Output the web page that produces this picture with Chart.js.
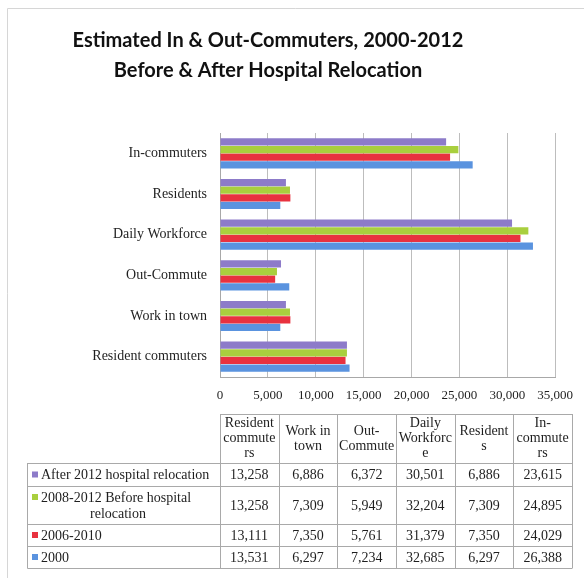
<!DOCTYPE html>
<html>
<head>
<meta charset="utf-8">
<script src="https://cdn.jsdelivr.net/npm/chart.js@4/dist/chart.umd.min.js"></script>
<style>
  html, body { margin: 0; padding: 0; background: #fff; }
  #wrap { width: 584px; height: 578px; position: relative; }
</style>
</head>
<body>
<div id="wrap"><canvas id="commuteChart" width="584" height="578"></canvas></div>
<script>
// categories in Excel / table order (bottom bar group first)
var categories = ['Resident commuters', 'Work in town', 'Out-Commute', 'Daily Workforce', 'Residents', 'In-commuters'];
// wrapped column headers as they show in the data table
var headerLines = [['Resident', 'commute', 'rs'], ['Work in', 'town'], ['Out-', 'Commute'], ['Daily', 'Workforc', 'e'], ['Resident', 's'], ['In-', 'commute', 'rs']];

var titleLines = ['Estimated In & Out-Commuters, 2000-2012', 'Before & After Hospital Relocation'];
var seriesNames = ['After 2012 hospital relocation', '2008-2012 Before hospital relocation', '2006-2010', '2000'];
var after2012 = [13258, 6886, 6372, 30501, 6886, 23615];
var before2012 = [13258, 7309, 5949, 32204, 7309, 24895];
var y2006to2010 = [13111, 7350, 5761, 31379, 7350, 24029];
var y2000 = [13531, 6297, 7234, 32685, 6297, 26388];

var xTicks = [0, 5000, 10000, 15000, 20000, 25000, 30000, 35000];

var colors = ['#8d7bc9', '#a9cf3e', '#e8323f', '#5a93df'];
var serif = '"Liberation Serif", "DejaVu Serif", serif';

function fmt(n) {
        return n.toLocaleString('en-US');
}

// title + table under the chart, drawn on the same canvas
var dataTable = {
        id: 'dataTable',
        afterDraw: function (chart) {
                var ctx = chart.ctx;
                var left = 27, labelRight = 220, right = 572;
                var colW = (right - labelRight) / categories.length;
                var headTop = 414, headBottom = 463;
                var rowEdges = [463, 486, 524, 546, 568];
                var rows = [after2012, before2012, y2006to2010, y2000];
                var rowLabels = [['After 2012 hospital relocation'], ['2008-2012 Before hospital', 'relocation'], ['2006-2010'], ['2000']];

                ctx.save();
                // title
                ctx.fillStyle = '#111';
                ctx.font = 'bold 20px Lato, "Open Sans", sans-serif';
                ctx.textAlign = 'center';
                ctx.textBaseline = 'middle';
                ctx.fillText(titleLines[0], 268, 41);
                ctx.fillText(titleLines[1], 268, 71);

                ctx.strokeStyle = '#a9a9a9';
                ctx.lineWidth = 1;
                ctx.beginPath();
                // header box
                ctx.moveTo(labelRight + 0.5, headTop + 0.5);
                ctx.lineTo(right + 0.5, headTop + 0.5);
                for (var c = 0; c <= categories.length; c++) {
                        var x = Math.round(labelRight + c * colW) + 0.5;
                        ctx.moveTo(x, headTop);
                        ctx.lineTo(x, rowEdges[rowEdges.length - 1]);
                }
                // row lines
                for (var r = 0; r < rowEdges.length; r++) {
                        ctx.moveTo(left + 0.5, rowEdges[r] + 0.5);
                        ctx.lineTo(right + 0.5, rowEdges[r] + 0.5);
                }
                ctx.moveTo(left + 0.5, headBottom);
                ctx.lineTo(left + 0.5, rowEdges[rowEdges.length - 1] + 0.5);
                ctx.stroke();

                ctx.fillStyle = '#1e1e1e';
                ctx.font = '14px ' + serif;
                ctx.textAlign = 'center';
                ctx.textBaseline = 'middle';
                // headers
                for (var c = 0; c < categories.length; c++) {
                        var cx = labelRight + c * colW + colW / 2;
                        var lines = headerLines[c];
                        var mid = (headTop + headBottom) / 2;
                        for (var i = 0; i < lines.length; i++) {
                                ctx.fillText(lines[i], cx, mid + (i - (lines.length - 1) / 2) * 15);
                        }
                }
                // rows
                for (var r = 0; r < rows.length; r++) {
                        var cy = (rowEdges[r] + rowEdges[r + 1]) / 2;
                        ctx.fillStyle = '#1e1e1e';
                        ctx.textAlign = 'center';
                        for (var c = 0; c < categories.length; c++) {
                                ctx.fillText(fmt(rows[r][c]), labelRight + c * colW + colW / 2, cy + 1);
                        }
                        // legend key + label
                        var lbl = rowLabels[r];
                        var ly = lbl.length > 1 ? cy - 8 : cy;
                        ctx.fillStyle = colors[r];
                        ctx.fillRect(32, ly - 3, 6, 6);
                        ctx.fillStyle = '#1e1e1e';
                        ctx.textAlign = 'left';
                        ctx.fillText(lbl[0], 41, ly + 1);
                        if (lbl.length > 1) {
                                ctx.textAlign = 'center';
                                ctx.fillText(lbl[1], 118, cy + 9);
                        }
                }
                // faint frame of the chart object
                ctx.strokeStyle = '#d6d6d6';
                ctx.beginPath();
                ctx.moveTo(7.5, 578);
                ctx.lineTo(7.5, 8.5);
                ctx.lineTo(584, 8.5);
                ctx.stroke();
                ctx.restore();
        }
};

var ctx = document.getElementById('commuteChart').getContext('2d');
var commuteChart = new Chart(ctx, {
        type: 'bar',
        data: {
                labels: categories,
                datasets: [
                        { label: seriesNames[0], data: after2012, backgroundColor: colors[0] },
                        { label: seriesNames[1], data: before2012, backgroundColor: colors[1] },
                        { label: seriesNames[2], data: y2006to2010, backgroundColor: colors[2] },
                        { label: seriesNames[3], data: y2000, backgroundColor: colors[3] }
                ]
        },
        plugins: [dataTable],
        options: {
                indexAxis: 'y',
                responsive: false,
                animation: false,
                categoryPercentage: 0.75,
                barPercentage: 0.95,
                layout: { padding: { left: 0, right: 28, top: 133, bottom: 171 } },
                plugins: {
                        legend: { display: false },
                        tooltip: { enabled: false },
                        title: { display: false }
                },
                scales: {
                        x: {
                                min: 0,
                                max: 35000,
                                afterBuildTicks: function (scale) {
                                        scale.ticks = xTicks.map(function (v) { return { value: v }; });
                                },
                                afterFit: function (scale) { scale.height = 30; },
                                ticks: {
                                        color: '#1e1e1e',
                                        padding: 11,
                                        maxRotation: 0,
                                        font: { family: serif, size: 13 },
                                        callback: function (value) { return fmt(value); }
                                },
                                grid: { color: '#bdbdbd', drawTicks: false },
                                border: { color: '#a8a8a8' }
                        },
                        y: {
                                reverse: true,
                                afterFit: function (scale) { scale.width = 220; },
                                ticks: {
                                        color: '#1e1e1e',
                                        padding: 13,
                                        font: { family: serif, size: 14 }
                                },
                                grid: { display: false, drawTicks: false },
                                border: { color: '#a8a8a8' }
                        }
                }
        }
});
</script>
</body>
</html>
